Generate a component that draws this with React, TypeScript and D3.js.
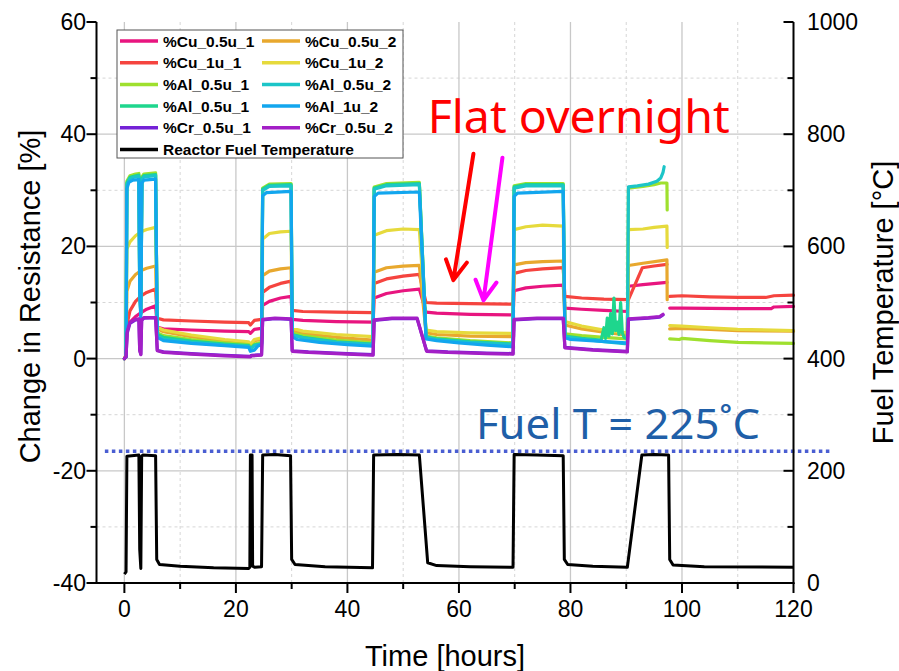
import React from "react";
import * as d3 from "d3";

type P = [number, number];

// ---------- DATA (time in hours, change in resistance in %) ----------
const seriesNames = [
  "%Cu_0.5u_1", "%Cu_0.5u_2",
  "%Cu_1u_1", "%Cu_1u_2",
  "%Al_0.5u_1", "%Al_0.5u_2",
  "%Al_0.5u_1", "%Al_1u_2",
  "%Cr_0.5u_1", "%Cr_0.5u_2",
];
const tempName = "Reactor Fuel Temperature";

const cu05u1: P[] = [[0,0],[0.3,0.5],[0.45,5],[1,6.5],[2,7.5],[3,8.2],[4,8.8],[5.6,9.4],[5.9,5.6],[7,5.3],[12,5.1],[18,4.9],[22.3,4.8],[22.6,4.5],[23.3,5.2],[24.6,5.4],[24.8,9.5],[26,10.2],[28,10.8],[29.9,11.1],[30.1,7.0],[32,6.8],[38,6.6],[44.6,6.5],[44.8,10.8],[47,11.6],[50,12.1],[52.9,12.4],[54.1,8.3],[56,8.1],[62,7.9],[69.7,7.8],[69.9,12.1],[72,12.6],[75,12.9],[78.7,13.1],[79,9.0],[82,8.8],[86,8.6],[90.2,8.4],[90.4,12.9],[93,13.2],[97.3,13.6],[97.5,NaN],[97.8,9.0],[100,9.0],[110,8.9],[116,8.9],[116.5,9.2],[120,9.3]];
const cu1u1: P[] = [[0,0],[0.3,0.5],[0.45,6],[1,8.5],[2,10.2],[3,11.2],[4,11.8],[5.6,12.4],[5.9,7.2],[7,6.9],[12,6.7],[18,6.5],[22.3,6.4],[22.6,6.0],[23.3,6.8],[24.6,7.0],[24.8,11.8],[26,12.7],[28,13.4],[29.9,13.8],[30.1,8.6],[32,8.4],[38,8.3],[44.6,8.2],[44.8,13.4],[47,14.2],[50,14.7],[52.9,15.0],[54.1,10.0],[56,9.9],[62,9.8],[69.7,9.7],[69.9,15.2],[72,15.7],[75,16.0],[78.7,16.2],[79,11.1],[82,10.8],[86,10.6],[90.4,10.5],[92.9,16.2],[95,16.5],[97.3,16.8],[97.5,NaN],[97.8,11.1],[100,11.2],[105,11.0],[110,10.9],[115,10.9],[116.5,11.2],[120,11.3]];
const cu05u2: P[] = [[0,0],[0.3,0.5],[0.45,12],[1,13.8],[2,15.0],[3,15.7],[4,16.1],[5.6,16.5],[5.9,5.3],[7,4.8],[12,3.9],[18,3.2],[22.3,2.8],[22.6,2.3],[23.3,3.2],[24.6,3.4],[24.8,14.8],[26,15.6],[28,16.0],[29.9,16.2],[30.1,5.0],[32,4.5],[38,3.8],[44.6,3.3],[44.8,15.4],[47,16.2],[50,16.5],[52.9,16.6],[54.1,4.6],[56,4.3],[62,4.0],[69.7,3.9],[69.9,16.7],[72,17.1],[75,17.3],[78.7,17.4],[79,6.0],[82,5.3],[86,4.7],[90.2,4.2],[90.4,16.6],[93,17.0],[97.3,17.6],[97.35,10.5],[97.5,NaN],[97.8,5.3],[100,5.4],[105,5.2],[110,5.0],[120,4.9]];
const cu1u2: P[] = [[0,0],[0.3,0.5],[0.45,19.5],[1,20.8],[2,21.9],[3,22.6],[4,23.0],[5.6,23.4],[5.9,5.6],[7,5.1],[12,4.2],[18,3.4],[22.3,3.0],[22.6,2.5],[23.3,3.4],[24.6,3.7],[24.8,21.3],[26,22.3],[28,22.6],[29.9,22.7],[30.1,5.4],[32,4.9],[38,4.3],[44.6,3.9],[44.8,22.0],[47,22.8],[50,23.1],[52.9,23.0],[54.1,5.1],[56,4.8],[62,4.6],[69.7,4.5],[69.9,23.0],[72,23.5],[75,23.8],[78.7,23.6],[79,6.6],[82,5.8],[86,5.1],[90.2,4.6],[90.4,23.0],[93,23.1],[95,23.4],[97.3,23.6],[97.35,19.8],[97.5,NaN],[97.8,5.9],[100,5.8],[105,5.5],[110,5.2],[120,5.0]];
const al05u1a: P[] = [[0,0],[0.3,0.3],[0.45,31.6],[1,32.6],[2,32.9],[2.6,33.0],[2.75,12],[2.95,8],[3.15,32.4],[3.5,32.9],[5.6,33.1],[5.9,4.6],[7,4.1],[12,3.4],[18,2.8],[22.3,2.5],[22.6,1.9],[23.3,2.6],[24.6,2.9],[24.8,30.4],[26,31.1],[29.9,31.2],[30.1,4.6],[32,4.1],[38,3.3],[44.6,2.8],[44.8,30.6],[47,31.2],[52.9,31.4],[54.1,4.0],[56,3.7],[62,3.2],[69.7,2.8],[69.9,30.8],[72,31.2],[78.7,31.2],[79,4.4],[82,4.1],[86,3.8],[90.2,3.5],[90.4,30.4],[93,30.7],[95,31.0],[96.2,31.3],[97.3,31.3],[97.35,26.5],[97.5,NaN],[97.8,3.5],[99.5,3.4],[100,3.6],[105,3.2],[110,2.9],[120,2.7]];
const al05u2: P[] = [[0,0],[0.3,0.3],[0.45,31.0],[1,32.1],[2,32.4],[2.6,32.5],[2.75,12],[2.95,8],[3.15,31.9],[3.5,32.4],[5.6,32.6],[5.9,4.0],[7,3.5],[12,2.9],[18,2.4],[22.3,2.2],[22.6,1.6],[23.3,2.3],[24.6,2.6],[24.8,30.0],[26,30.7],[29.9,30.8],[30.1,4.2],[32,3.7],[38,2.9],[44.6,2.5],[44.8,30.2],[47,30.8],[52.9,31.0],[54.1,3.8],[56,3.4],[62,2.9],[69.7,2.5],[69.9,30.4],[72,30.8],[78.7,30.8],[79,3.9],[82,3.5],[86,3.0],[90.2,2.6],[90.4,30.6],[92,30.8],[94,31.1],[95.5,31.6],[96.2,32.2],[96.6,33.2],[96.8,34.2]];
const al05u1b: P[] = [[0,0],[0.3,0.3],[0.45,31.3],[1,32.3],[2,32.6],[2.6,32.7],[2.75,12],[2.95,8],[3.15,32.1],[3.5,32.6],[5.6,32.8],[5.9,4.3],[7,3.8],[12,3.1],[18,2.6],[22.3,2.3],[22.6,1.7],[23.3,2.4],[24.6,2.7],[24.8,30.2],[26,30.9],[29.9,31.0],[30.1,4.3],[32,3.8],[38,3.0],[44.6,2.6],[44.8,30.4],[47,31.0],[52.9,31.2],[54.1,3.9],[56,3.5],[62,3.0],[69.7,2.6],[69.9,30.6],[72,31.0],[78.7,31.0],[79,4.0],[82,3.6],[85.5,3.3],[86,5.5],[86.3,3.6],[86.6,7.2],[86.9,4.0],[87.2,8.0],[87.5,4.4],[87.8,10.8],[88.1,5.0],[88.4,6.5],[88.7,4.3],[89.0,10.0],[89.3,4.6],[89.6,3.8],[90,3.6]];
const al1u2: P[] = [[0,0],[0.3,0.3],[0.45,30.3],[0.8,31.4],[1.5,31.8],[2.6,31.9],[2.75,12],[2.95,7],[3.15,31.3],[3.5,31.8],[5.6,32.0],[5.9,3.8],[7,3.2],[12,2.7],[18,2.3],[22.3,2.0],[22.6,1.3],[23.3,1.5],[24,2.3],[24.6,2.4],[24.8,29.0],[25.5,29.6],[29.9,29.8],[30.1,3.9],[31,3.4],[35,2.9],[40,2.5],[44.6,2.2],[44.8,28.9],[45.5,29.5],[52.9,29.7],[54.1,3.5],[56,3.2],[60,2.8],[65,2.4],[69.7,2.1],[69.9,28.9],[70.5,29.5],[78.7,29.8],[79,3.7],[80,3.4],[85,3.1],[90,2.8]];
const cr05u1: P[] = [[0,0],[0.3,0.3],[0.5,4.5],[1,6.3],[2,6.9],[2.6,7.0],[2.75,1.5],[2.95,0.8],[3.1,6.8],[3.5,7.2],[5.6,7.3],[5.9,1.5],[7,1.2],[12,0.9],[18,0.6],[22.6,0.4],[22.8,0.6],[24.6,0.7],[24.8,6.9],[27,7.1],[29.9,7.0],[30.1,1.4],[33,1.2],[40,0.9],[44.6,0.7],[44.8,6.8],[48,7.1],[52.5,7.1],[54.2,1.4],[58,1.2],[65,1.0],[69.7,0.9],[69.9,6.9],[74,7.1],[78.7,7.1],[79,2.0],[84,1.6],[90.2,1.3],[90.4,7.0],[94,7.2],[96,7.4],[96.6,7.8]];
const cr05u2: P[] = [[0,0],[0.3,0.3],[0.5,4.8],[1,6.5],[2,7.0],[2.6,7.1],[2.75,1.4],[2.95,0.7],[3.1,6.9],[3.5,7.3],[5.6,7.3],[5.9,1.4],[7,1.1],[12,0.8],[18,0.5],[22.6,0.3],[22.8,0.5],[24.6,0.6],[24.8,7.0],[27,7.2],[29.9,7.1],[30.1,1.3],[33,1.1],[40,0.8],[44.6,0.6],[44.8,6.9],[48,7.2],[52.5,7.2],[54.2,1.3],[58,1.1],[65,0.9],[69.7,0.8],[69.9,7.0],[74,7.2],[78.7,7.2],[79,1.9],[84,1.5],[90.2,1.2],[90.4,7.1],[94,7.3],[96,7.5],[96.6,7.9]];
// reactor fuel temperature, degC
const fuelTemp: P[] = [[0,16],[0.3,20],[0.45,226],[2.6,228],[2.75,60],[2.95,26],[3.1,226],[3.3,228],[5.6,227],[5.8,42],[6.3,33],[10,30],[16,27],[22.3,26],[22.5,28],[22.6,228],[22.9,228],[23.0,30],[23.4,28],[24.6,29],[24.8,228],[27,229],[29.8,227],[30.0,42],[30.6,33],[36,29],[44.5,27],[44.7,228],[49,229],[52.9,228],[54.4,36],[56,31],[62,29],[69.7,28],[69.9,229],[74,228],[78.7,227],[78.9,42],[79.5,33],[84,30],[90.2,28],[92.8,228],[95,229],[97.6,228],[97.8,42],[98.4,32],[104,29],[120,28]];
const refTemp = 235; // dotted reference line, degC

const xTicks = [0, 20, 40, 60, 80, 100, 120];
const xMinor = [10, 30, 50, 70, 90, 110];
const yTicks = [-40, -20, 0, 20, 40, 60];
const yMinor = [-30, -10, 10, 30, 50];
const rTicks = [0, 200, 400, 600, 800, 1000];
const rMinor = [100, 300, 500, 700, 900];

// ---------- STYLES ----------
const seriesData = [cu05u1, cu05u2, cu1u1, cu1u2, al05u1a, al05u2, al05u1b, al1u2, cr05u1, cr05u2];
const seriesColors = ["#e8157f", "#e8a82e", "#f5443f", "#e6da3c", "#9fe02e", "#1cc5c8", "#1ed68d", "#12a6ee", "#7421d6", "#a31fc6"];
const drawOrder = [0, 2, 1, 3, 4, 6, 5, 7, 8, 9];

const W = 899, H = 671;
const L = 96.5, R = 793.5, T = 22, B = 583;
const FONT = "'Liberation Sans', Arial, Helvetica, sans-serif";
const NOTO = "'Noto Sans', 'Open Sans', sans-serif";

export default function App() {
  const x = d3.scaleLinear().domain([-5, 120]).range([L, R]);
  const y = d3.scaleLinear().domain([-40, 60]).range([B, T]);
  const yr = d3.scaleLinear().domain([0, 1000]).range([B, T]);

  const line = d3.line<P>().defined((d) => !isNaN(d[1])).x((d) => x(d[0])).y((d) => y(d[1]));
  const tline = d3.line<P>().x((d) => x(d[0])).y((d) => yr(d[1]));

  const arrow = (t0: number, v0: number, t1: number, v1: number) => {
    const x0 = x(t0), y0 = y(v0), x1 = x(t1), y1 = y(v1);
    const a = Math.atan2(y0 - y1, x0 - x1);
    const len = 22, ang = 0.5;
    const w1 = [x1 + len * Math.cos(a + ang), y1 + len * Math.sin(a + ang)];
    const w2 = [x1 + len * Math.cos(a - ang), y1 + len * Math.sin(a - ang)];
    return `M${x0},${y0}L${x1},${y1}M${w1[0]},${w1[1]}L${x1},${y1}L${w2[0]},${w2[1]}`;
  };

  const legX = 117, legY = 30, legW = 286, legH = 128, rowH = 21.7;

  return (
    <svg width={W} height={H} style={{ position: "absolute", left: 0, top: 0, display: "block", background: "#fff" }}>
      <rect x={0} y={0} width={W} height={H} fill="#fff" />
      {/* grid */}
      {xMinor.map((t) => (
        <line key={"gxm" + t} x1={x(t)} x2={x(t)} y1={T} y2={B} stroke="#d6d6d6" strokeWidth={1} strokeDasharray="3,3" />
      ))}
      {yMinor.map((v) => (
        <line key={"gym" + v} x1={L} x2={R} y1={y(v)} y2={y(v)} stroke="#d6d6d6" strokeWidth={1} strokeDasharray="3,3" />
      ))}
      {xTicks.filter((t) => t < 120).map((t) => (
        <line key={"gx" + t} x1={x(t)} x2={x(t)} y1={T} y2={B} stroke="#c8c8c8" strokeWidth={1.3} />
      ))}
      {yTicks.filter((v) => v > -40 && v < 60).map((v) => (
        <line key={"gy" + v} x1={L} x2={R} y1={y(v)} y2={y(v)} stroke="#c8c8c8" strokeWidth={1.3} />
      ))}

      {/* data */}
      {drawOrder.map((i) => (
        <path key={"s" + i} d={line(seriesData[i]) || ""} fill="none" stroke={seriesColors[i]} strokeWidth={3.2} strokeLinejoin="round" strokeLinecap="round" />
      ))}
      <path d={tline(fuelTemp) || ""} fill="none" stroke="#000" strokeWidth={3} strokeLinejoin="round" />
      <line x1={x(-3.5)} x2={x(127)} y1={yr(refTemp)} y2={yr(refTemp)} stroke="#4a5ed2" strokeWidth={3.5} strokeDasharray="3.5,3.5" />

      {/* axes */}
      <line x1={L} x2={L} y1={T} y2={B + 1} stroke="#000" strokeWidth={2} />
      <line x1={R} x2={R} y1={T} y2={B + 1} stroke="#000" strokeWidth={2} />
      <line x1={L - 1} x2={R + 1} y1={B} y2={B} stroke="#000" strokeWidth={2} />
      {xTicks.map((t) => (
        <g key={"xt" + t}>
          <line x1={x(t)} x2={x(t)} y1={B} y2={B + 10} stroke="#000" strokeWidth={2} />
          <text x={x(t)} y={617} textAnchor="middle" fontFamily={FONT} fontSize={23} fill="#000">{t}</text>
        </g>
      ))}
      {xMinor.map((t) => (
        <line key={"xm" + t} x1={x(t)} x2={x(t)} y1={B} y2={B + 6} stroke="#000" strokeWidth={2} />
      ))}
      {yTicks.map((v) => (
        <g key={"yt" + v}>
          <line x1={L - 10} x2={L} y1={y(v)} y2={y(v)} stroke="#000" strokeWidth={2} />
          <text x={86} y={y(v) + 8} textAnchor="end" fontFamily={FONT} fontSize={23} fill="#000">{v}</text>
        </g>
      ))}
      {yMinor.map((v) => (
        <line key={"ym" + v} x1={L - 6} x2={L} y1={y(v)} y2={y(v)} stroke="#000" strokeWidth={2} />
      ))}
      {rTicks.map((v) => (
        <g key={"rt" + v}>
          <line x1={R - 10} x2={R} y1={yr(v)} y2={yr(v)} stroke="#000" strokeWidth={2} />
          <text x={807} y={yr(v) + 8} textAnchor="start" fontFamily={FONT} fontSize={23} fill="#000">{v}</text>
        </g>
      ))}
      {rMinor.map((v) => (
        <line key={"rm" + v} x1={R - 6} x2={R} y1={yr(v)} y2={yr(v)} stroke="#000" strokeWidth={2} />
      ))}

      {/* axis titles */}
      <text transform={`translate(40,${(T + B) / 2 - 6}) rotate(-90)`} textAnchor="middle" fontFamily={FONT} fontSize={29} fill="#000">Change in Resistance [%]</text>
      <text transform={`translate(893,${(T + B) / 2}) rotate(-90)`} textAnchor="middle" fontFamily={FONT} fontSize={29} fill="#000">Fuel Temperature [°C]</text>
      <text x={(L + R) / 2} y={666} textAnchor="middle" fontFamily={FONT} fontSize={29} fill="#000">Time [hours]</text>

      {/* legend */}
      <rect x={legX} y={legY} width={legW} height={legH} fill="#fff" stroke="#555" strokeWidth={1} />
      {seriesNames.map((name, i) => {
        const col = i % 2, row = Math.floor(i / 2);
        const lx = legX + 3 + col * 142;
        const ly = legY + 11 + row * rowH;
        return (
          <g key={"lg" + i}>
            <line x1={lx} x2={lx + 38} y1={ly} y2={ly} stroke={seriesColors[i]} strokeWidth={3.5} />
            <text x={lx + 43} y={ly + 5.5} fontFamily={FONT} fontWeight="bold" fontSize={15.5} fill="#000">{name}</text>
          </g>
        );
      })}
      <line x1={legX + 3} x2={legX + 41} y1={legY + 11 + 5 * rowH} y2={legY + 11 + 5 * rowH} stroke="#000" strokeWidth={3.5} />
      <text x={legX + 46} y={legY + 16.5 + 5 * rowH} fontFamily={FONT} fontWeight="bold" fontSize={15.5} fill="#000">{tempName}</text>

      {/* annotations */}
      <text x={x(54.4)} y={y(40.3)} fontFamily={NOTO} fontSize={46} fill="#ff0000" textLength={302} lengthAdjust="spacingAndGlyphs">Flat overnight</text>
      <path d={arrow(62.6, 36.5, 59.0, 14.0)} fill="none" stroke="#ff0000" strokeWidth={4} strokeLinecap="round" strokeLinejoin="round" />
      <path d={arrow(67.8, 35.8, 64.4, 10.4)} fill="none" stroke="#ff00ff" strokeWidth={4} strokeLinecap="round" strokeLinejoin="round" />
      <text x={476} y={439} fontFamily={NOTO} fontSize={42} fill="#1f5fa8" textLength={284} lengthAdjust="spacingAndGlyphs">Fuel T = 225˚C</text>
    </svg>
  );
}
